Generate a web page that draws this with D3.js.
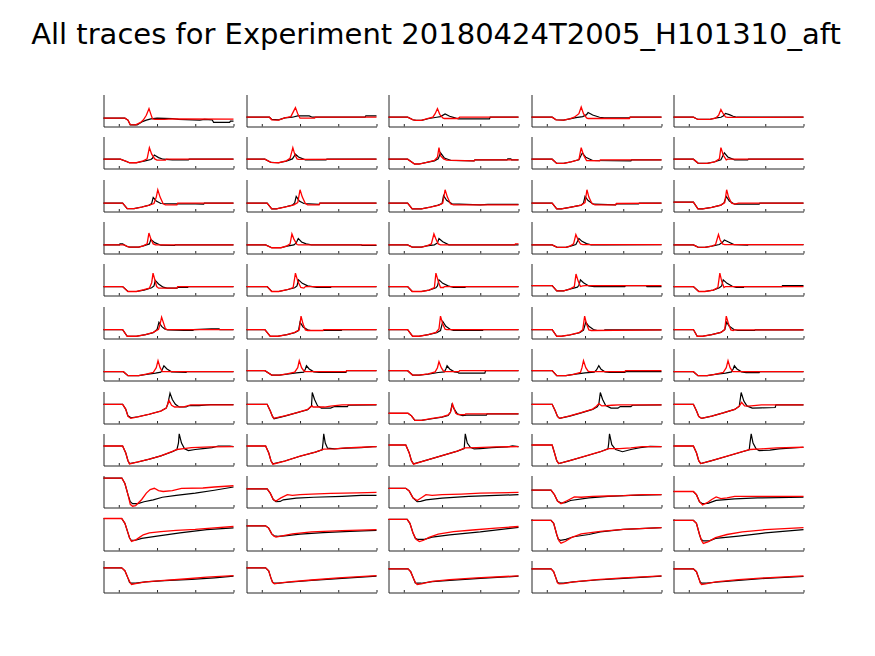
<!DOCTYPE html>
<html><head><meta charset="utf-8">
<script src="https://cdn.jsdelivr.net/npm/d3@7/dist/d3.min.js"></script>
<style>body{margin:0;background:#fff}svg{display:block}</style>
</head><body>
<svg id="c" width="875" height="656"></svg>
<script>
const title = "All traces for Experiment 20180424T2005_H101310_aft";
const timeTicks = [0, 50, 100, 150];
const timeDomain = [-20, 150];
const levelDomain = [0, 100];

// each panel trace: flat list of time,level pairs
const blackRow1 = [
 [-20,26, 8,26, 12,20, 15,5, 24,5, 30,14, 36,20, 42,24, 50,26, 70,25, 78,22, 106,20, 112,22, 122,21, 124,13, 145,13, 146,17, 150,17],
 [-20,29, 10,29, 13,22, 22,21, 30,27, 40,29, 47,33, 62,33, 66,29, 135,29, 136,33, 150,33],
 [-20,29, 5,29, 12,21, 16,19, 23,19, 33,25, 43,29, 48,31, 54,39, 60,32, 68,26, 72,24, 112,24, 113,29, 150,29],
 [-20,29, 7,29, 12,21, 22,20, 30,24, 38,28, 47,31, 52,37, 54,44, 60,36, 69,29, 75,27, 108,27, 109,29, 150,29],
 [-20,29, 6,29, 12,22, 27,22, 36,27, 42,29, 45,33, 48,41, 53,37, 58,32, 63,29, 150,29]];
const redRow1 = [
 [-20,26, 8,26, 12,20, 15,6, 22,5, 28,12, 32,20, 36,35, 39.5,56, 42,38, 44,24, 47,22, 60,22, 70,24, 150,23],
 [-20,29, 10,29, 13,21, 22,20, 30,27, 38,31, 41,45, 44,59, 47,40, 50,26, 69,26, 70,29, 150,29],
 [-20,29, 5,29, 12,21, 16,19, 23,19, 33,26, 38,29, 41,40, 44,56, 47,38, 51,27, 53,25, 71,25, 73,29, 150,29],
 [-20,29, 7,29, 12,21, 22,20, 30,24, 36,29, 42,40, 45,61, 48,40, 52,27, 54,25, 108,25, 109,29, 150,29],
 [-20,29, 6,29, 12,22, 27,22, 35,26, 39,35, 42,53, 45,40, 48,30, 51,28.6, 150,29]];

const blackRow2 = [
 [-20,29, 2,29, 10,22, 14,18, 23,18, 33,23, 42,28, 44,32, 46.5,42, 52,34, 58,29, 70,27, 91,27, 92,29, 150,29],
 [-20,29, 4,29, 12,19, 22,18, 32,23, 40,30, 44,45, 48,36, 57,27, 84,27, 85,29, 150,29],
 [-20,29, 5,29, 14,14, 20,14, 30,19, 40,24, 45,30, 48,49, 53,33, 62,25, 92,24, 93,27, 135,27, 136,30, 140,30, 141,27, 150,27],
 [-20,29, 7,29, 13,16, 22,16, 32,21, 42,27, 46.5,49, 51,35, 60,25, 110,24, 111,27, 150,27],
 [-20,29, 6,29, 12,17, 24,16, 34,21, 42,27, 46.5,49, 51,36, 60,27, 77,27, 78,29, 150,29]];
const redRow2 = [
 [-20,29, 2,29, 10,22, 14,18, 23,18, 32,24, 37,30, 40,65, 43,45, 47,30, 50,26, 61,26, 62,29, 150,29],
 [-20,29, 4,29, 12,19, 22,18, 32,24, 37,32, 40.6,65, 43,45, 46,30, 48,28.6, 150,29],
 [-20,29, 5,29, 14,14, 20,14, 30,19, 40,25, 44,35, 46,65, 48,40, 52,30, 56,26, 92,24, 93,27, 150,27],
 [-20,29, 7,29, 13,16, 22,16, 32,21, 42,28, 45,65, 48,42, 52,25, 69,24, 70,27, 150,27],
 [-20,29, 6,29, 12,17, 24,16, 34,21, 40,30, 42,65, 45,42, 49,27, 51,29, 150,29]];

const blackRow3 = [
 [-20,26, 5,26, 11,9, 20,9, 30,14, 40,20, 43,25, 45,44, 49,33, 55,25, 76,24, 100,24, 111,23, 112,26, 150,26],
 [-20,26, 7,26, 13,8, 19,8, 30,14, 40,20, 43,27, 45,47, 49,33, 55,25, 75,22, 76,26, 150,26],
 [-20,26, 5,26, 11,8, 23,8, 35,14, 45,20, 50,25, 52,50, 56,35, 63,24, 100,21, 110,22, 150,22],
 [-20,26, 7,26, 13,8, 19,8, 30,13, 45,20, 48,27, 50,47, 54,34, 61,23, 90,21, 91,24, 120,24, 121,26, 150,26],
 [-20,29, 6,29, 12,8, 18,8, 30,13, 42,20, 46,27, 49,47, 53,33, 60,23, 92,23, 93,26, 150,26]];
const redRow3 = [
 [-20,26, 5,26, 11,9, 20,9, 30,14, 40,20, 46,25, 49,45, 51,68, 54,45, 58,24, 61,21, 76,21, 77,26, 150,26],
 [-20,26, 7,26, 13,8, 19,8, 30,14, 42,21, 47,28, 50,68, 53,45, 57,25, 60,21, 75,21, 76,26, 150,26],
 [-20,26, 5,26, 11,8, 23,8, 35,14, 46,20, 51,26, 54,68, 57,45, 61,24, 65,21, 150,21],
 [-20,26, 7,26, 13,8, 19,8, 30,13, 45,20, 50,28, 52.5,68, 55,45, 59,25, 63,21, 90,21, 91,25, 150,26],
 [-20,29, 6,29, 12,8, 18,8, 30,13, 42,20, 47,28, 49.5,68, 52,45, 56,26, 60,23, 65,26, 150,26]];

const blackRow4 = [
 [-20,27, 1,27, 1.5,30, 5,30, 7,27, 11,22, 14,20, 26,20, 32,24, 40,30, 42,44, 47,34, 55,26, 73,25, 74,27, 150,27],
 [-20,27, 5,27, 13,18, 25,18, 33,23, 42,27, 45,33, 47.7,47, 52,36, 58,30, 65,27, 130,27, 131,25, 150,25],
 [-20,27, 5,27, 11,20, 23,20, 30,24, 40,27, 44,33, 46,47, 51,37, 59,27, 150,27],
 [-20,27, 7,27, 13,20, 16,19, 25,19, 31,23, 38,28, 42,47, 46,38, 52,31, 58,27, 75,27, 150,28],
 [-20,27, 6,27, 12,20, 21,19, 30,23, 40,28, 44,35, 46.5,42, 52,36, 59,28, 77,26, 78,28, 150,28]];
const redRow4 = [
 [-20,27, 7,27, 11,22, 14,20, 26,20, 32,24, 37,30, 39.4,64, 42,45, 45,30, 48,27, 150,27],
 [-20,27, 5,27, 13,18, 25,18, 33,24, 37,30, 39.4,61, 42,45, 46,28, 48,27, 150,27],
 [-20,27, 5,27, 11,20, 23,20, 30,24, 36,30, 39.4,61, 42,45, 45,30, 48,27, 145,27, 146,30, 150,30],
 [-20,27, 7,27, 13,20, 16,19, 25,19, 31,24, 35,30, 38,59, 41,42, 44,30, 47,28, 150,28],
 [-20,27, 6,27, 12,20, 21,19, 30,23, 35,28, 38.8,59, 41,42, 44,30, 47,28, 150,28]];

const blackRow5 = [
 [-20,28, 5,28, 12,12.5, 23,12.5, 33,17, 43,24, 46,30, 47.7,47, 52,36, 58,26, 63,23, 76,23, 77,25, 90,25, 91,28, 150,28],
 [-20,28, 7,28, 13,12.5, 22,12.5, 33,18, 43,24, 46,30, 48,49, 53,38, 60,30, 66,28, 72,25, 90,25, 91,28, 150,28],
 [-20,28, 5,28, 11,12.5, 23,12.5, 33,17, 42,24, 44,30, 46,49, 51,38, 58,30, 65,25, 80,25, 81,28, 150,28],
 [-20,31, 7,31, 13,14.5, 22,14.5, 30,20, 40,26, 42,32, 44,49, 48,40, 55,30, 62,28, 102,28, 103,31, 130,31, 131,28, 150,28],
 [-20,28, 6,28, 13,12.5, 21,12.5, 32,17, 40,24, 43,30, 45,49, 50,38, 57,29, 62,25, 71.5,25, 72,28, 122,28, 122.5,31, 150,31]];
const redRow5 = [
 [-20,28, 5,28, 12,12.5, 23,12.5, 33,18, 40,23, 43,40, 44.8,70, 47,50, 49.5,28, 52,23, 76,23, 77,28, 150,28],
 [-20,28, 7,28, 13,12.5, 22,12.5, 33,18, 41,25, 44,70, 47,45, 51,25, 55,23, 57,28, 150,28],
 [-20,28, 5,28, 11,12.5, 23,12.5, 33,17, 40,25, 42,70, 45,45, 48,25, 52,25, 53,28, 150,28],
 [-20,31, 7,31, 13,14.5, 22,14.5, 30,20, 36,28, 38.2,67, 41,45, 44,28, 47,30, 50,31, 150,31],
 [-20,28, 6,28, 13,12.5, 21,12.5, 32,17, 38,25, 40.6,70, 43,45, 46,25, 48,28, 150,28]];

const blackRow6 = [
 [-20,28, 5,28, 11,7, 23,7, 35,12, 45,18, 50,28, 52.5,51, 56,38, 60,30, 64,27, 85,25, 97,25, 98,28, 121,30, 131,30, 132,28, 150,28],
 [-20,28, 4,28, 11,7, 21,7, 33,12, 43,18, 48,25, 50,51, 54,36, 60,27, 64,25, 104,25, 105,28, 150,28],
 [-20,28, 5,28, 11.5,7, 20,7, 32,12, 43,18, 48,25, 51,53, 55,38, 61,28, 65,25, 103,25, 104,28, 150,28],
 [-20,28, 7,28, 13,7, 19,7, 30,11, 43,18, 48,26, 51,51, 55,38, 61,28, 66,25, 75,25, 76,27, 150,27],
 [-20,28, 6,28, 11,7, 18,7, 30,12, 42,19, 47,28, 49.5,51, 53,38, 59,28, 64,25, 86,25, 87,27, 150,27]];
const redRow6 = [
 [-20,28, 5,28, 11,7, 23,7, 35,12, 45,19, 52,29, 54,45, 56,66.5, 59,45, 61,30, 63,28, 150,28],
 [-20,28, 4,28, 11,7, 21,7, 33,12, 43,19, 49,27, 51.3,70, 54,45, 57,27, 60,25, 80,25, 81,28, 150,28],
 [-20,28, 5,28, 11.5,7, 20,7, 32,12, 42,19, 46,30, 48,70, 51,45, 54,29, 56,28, 150,28],
 [-20,28, 7,28, 13,7, 19,7, 30,11, 42,18, 47,27, 49.5,70, 52,45, 55,27, 58,25, 150,27],
 [-20,28, 6,28, 11,7, 18,7, 30,12, 42,19, 47,28, 49,70, 52,45, 55,27, 58,25, 60,27, 150,27]];

const blackRow7 = [
 [-20,27.5, 6,27.5, 12,15, 26,15, 36,19, 48,23, 55,26, 57,35, 59,46, 63,36, 69,27, 88,25, 89,27.5, 150,27.5],
 [-20,30.7, 4,30.7, 13,17, 23,17, 33,20, 45,24, 55,26, 57,36, 58.4,46, 62,36, 68,27, 75,25, 110,25, 111,30.7, 150,30.7],
 [-20,30.7, 5,30.7, 11.5,17, 20,17, 32,20, 45,25, 53,27, 55,36, 56.6,46, 60,36, 66,27, 71,25, 72,23, 106,23, 107,30.7, 150,30.7],
 [-20,30.7, 7,30.7, 13,15, 25,15, 35,19, 50,24, 62,26, 65,33, 68,46, 71,35, 76,27, 82,25.5, 102,25.5, 103,27.5, 150,27.5],
 [-20,27.5, 6,27.5, 12,15, 24,15, 34,19, 48,23, 56,27, 58,36, 59.6,46, 63,36, 69,27, 75,24.5, 92,24.5, 93,27.5, 150,27.5]];
const redRow7 = [
 [-20,27.5, 6,27.5, 12,15, 26,15, 36,20, 45,25, 49,40, 51.3,62, 54,40, 57,28, 60,27.5, 150,27.5],
 [-20,30.7, 4,30.7, 13,17, 23,17, 33,21, 43,26, 47,40, 49,62, 52,40, 55,30, 57,27.5, 110,27.5, 111,30.7, 150,30.7],
 [-20,30.7, 5,30.7, 11.5,17, 20,17, 32,21, 41,27, 44,40, 46,59, 49,40, 52,29, 53,27.5, 72,27.5, 73,30.7, 150,30.7],
 [-20,30.7, 7,30.7, 13,15, 25,15, 35,19, 44,25, 46,40, 48,62, 51,40, 54,29, 56,27.5, 102,27.5, 103,30.7, 150,30.7],
 [-20,27.5, 6,27.5, 12,15, 24,15, 34,19, 45,25, 49,40, 51.3,62, 54,40, 57,29, 58,27.5, 150,27.5]];

const blackRow8 = [
 [-20,60, 5,60, 9,45, 12,24, 16,18, 25,21, 40,29, 55,39, 62,48, 64,60, 67,95, 70,75, 74,60, 79,51.5, 88,51.5, 92,56, 105,56, 115,58, 120,59, 150,59],
 [-20,60, 7,60, 11,40, 14,22, 16,15, 30,23, 45,33, 60,43, 65,55, 66,97, 69,75, 73,55, 78,48, 90,48, 95,53, 112,53, 113,57, 150,58],
 [-20,32, 5.5,32, 10,24, 14.5,10, 23,10, 35,14, 50,20, 58,25, 61,35, 63,59, 66,45, 70,30, 77,24.4, 82,26, 108,26, 109,30, 150,30],
 [-20,60, 7,60, 11,40, 14,22, 16.7,16, 30,23, 45,33, 60,44, 66,52, 68,60, 70,97, 73,75, 77,56, 84,48, 93,48, 96,53, 110,53, 112,57, 150,58],
 [-20,60, 6,60, 10,40, 13,22, 16.7,16, 30,23, 45,33, 60,44, 66,54, 68.5,97, 72,70, 76,55, 83,48, 95,49, 113,50, 114,58, 150,58]];
const redRow8 = [
 [-20,60, 5,60, 9,45, 12,22, 15.6,16, 25,21, 40,29, 55,39, 62,48, 65.6,72, 69,57, 73,51.5, 85,52, 94,58, 150,58],
 [-20,60, 7,60, 11,40, 14,22, 15.6,16, 30,24, 45,33, 60,44, 64,52, 66,55, 67,51.5, 82,51.5, 90,54, 105,58, 150,59],
 [-20,32, 5.5,32, 10,24, 14.5,10, 23,10, 35,15, 50,21, 58,27, 61,35, 63.8,61, 66,45, 68,32, 71,27.5, 80,27.5, 81,30, 150,30],
 [-20,60, 7,60, 11,40, 14,22, 16.7,16, 30,24, 45,34, 60,45, 64,52, 68,62, 72,55, 78,56, 85,57, 95,58, 150,58],
 [-20,60, 6,60, 10,40, 13,22, 16.7,16, 30,23, 45,33, 60,44, 66,54, 69,66, 73,55, 78,54, 85,56, 95,58, 150,58]];

const blackRow9 = [
 [-20,61, 5,61, 9,40, 12,15, 14,6, 25,11, 40,20, 55,30, 70,43, 76,50, 78,70, 79,99, 82,70, 86,52, 91,46.5, 100,50, 110,53, 122,56, 130,61, 145,61, 150,59],
 [-20,61, 5,61, 9,40, 12,15, 14.5,5, 30,14, 50,29, 70,42, 79,49, 80,70, 81,99, 83,70, 86,54, 95,52, 110,54, 130,56, 145,59, 150,59],
 [-20,64, 2.6,64, 7,40, 10,15, 12.7,5, 30,17, 50,31, 70,45, 79,53, 80.4,99, 83,70, 87,57, 92,51.7, 100,53, 115,56, 135,58, 142,61, 150,59],
 [-20,64, 7,64, 10,40, 13,15, 15.6,6, 30,15, 50,29, 70,43, 80,52, 81,70, 82,99, 85,65, 90,50, 99,43, 110,50, 122,56, 135,60, 150,59],
 [-20,61, 6,61, 10,40, 13,15, 15.6,6, 30,15, 50,29, 70,43, 79,49, 80,70, 81.6,99, 84,70, 88,52, 92,46.5, 106,48, 118,52, 150,57]];
const redRow9 = [
 [-20,61, 5,61, 9,40, 12,15, 14,5, 25,11, 40,20, 55,30, 70,44, 76,50, 85,53, 95,56, 120,58, 150,59],
 [-20,61, 5,61, 9,40, 12,15, 14.5,4, 30,14, 50,29, 70,42, 81,51, 95,52, 110,55, 130,57, 150,59],
 [-20,64, 2.6,64, 7,40, 10,15, 12.7,4, 30,17, 50,31, 70,45, 80,55, 95,56, 120,58, 150,59],
 [-20,64, 7,64, 10,40, 13,15, 15.6,6, 30,15, 50,29, 70,43, 81,53, 95,53, 110,55, 125,59, 150,59],
 [-20,61, 6,61, 10,40, 13,15, 15.6,6, 30,15, 50,29, 70,43, 80,50, 95,52, 115,55, 150,57]];

const blackRow10 = [
 [-20,92, 4,92, 8,75, 12,40, 15,18, 18,12, 25,12, 33,18, 45,24, 57,32, 75,38, 100,45, 125,54, 150,64],
 [-20,58, 7,58, 11,45, 15,25, 18.6,18, 24,19, 28,24, 45,29, 68,32, 105,35, 130,38, 150,38],
 [-20,60, 2.6,60, 7,52, 12,30, 17.5,18, 22,19, 29,24, 50,29, 85,35, 150,40],
 [-20,54, 5.5,54, 10,40, 14,20, 18.6,14, 24,15, 31,22, 55,30, 80,35, 110,38, 150,40],
 [-20,50, 6,50, 10,40, 14,18, 18,12, 25,13, 35.8,22, 60,27, 90,30, 150,32]];
const redRow10 = [
 [-20,92, 4,92, 8,75, 12,40, 15,10, 18,4, 22,6, 30,25, 36,45, 41,56, 46.5,60, 52,53, 58,50, 70,53, 82,60, 110,61, 125,64, 150,68],
 [-20,58, 7,58, 11,45, 15,25, 18.6,20, 25,30, 33.5,40, 40,38, 50,40, 65,42, 90,44, 125,46, 150,47],
 [-20,60, 2.6,60, 7,52, 12,30, 17.5,22, 24,32, 29,40, 37,38, 50,40, 75,42, 100,45, 150,47],
 [-20,54, 5.5,54, 10,40, 14,20, 18.6,12, 27,22, 36,33, 45,32, 60,35, 80,36, 100,37, 125,40, 150,40],
 [-20,50, 6,50, 10,40, 14,18, 18,8, 24,15, 30,25, 35.8,33, 42,28, 50,30, 60,35, 150,35]];

const blackRow11 = [
 [-20,100, 3.8,100, 8,85, 12,55, 14,40, 16,32, 22,32, 30,38, 50,45, 80,55, 115,65, 150,71],
 [-20,77, 5,77, 9,70, 13,52, 16,46, 21,44, 30,46, 50,51, 80,56, 115,60, 150,63],
 [-20,97, 4.4,97, 8,85, 12,55, 15,38, 18,35, 27,35, 37,42, 60,49, 100,58, 150,72],
 [-20,94, 5.5,94, 9,85, 13,50, 15,35, 18,32, 25,35, 35,43, 55,50, 70,58, 100,66, 150,71.5],
 [-20,94, 6,94, 10,85, 14,50, 16,35, 19,30, 27,30, 35,38, 65,45, 100,55, 150,65]];
const redRow11 = [
 [-20,100, 3.8,100, 8,85, 12,55, 14,40, 16.7,28, 22,33, 27,41, 32,49, 40,55, 55,59, 75,63, 100,66, 125,71, 150,75],
 [-20,77, 5,77, 9,70, 13,52, 16,45, 18.6,42, 25,45, 40,52, 65,58, 105,62, 150,65],
 [-20,97, 4.4,97, 8,85, 12,55, 16,35, 20.4,28, 26,32, 33,41, 45,51, 65,59, 90,64, 120,70, 150,75],
 [-20,94, 5.5,94, 9,85, 13,50, 16,30, 18.6,23, 24,28, 32,40, 45,52, 70,60, 100,66, 150,71.5],
 [-20,94, 6,94, 10,85, 14,50, 17,30, 19,22, 25,27, 35,40, 50,50, 70,58, 100,65, 150,71.5]];

const blackRow12 = [
 [-20,77, 3.8,77, 8,68, 12,45, 14,32, 16,29, 22,29, 35,33, 60,37, 95,41, 125,46, 150,51],
 [-20,77, 5,77, 9,68, 12,45, 14,33, 16,29, 22,29, 35,32, 65,38, 105,44, 150,51],
 [-20,74, 5.5,74, 9,65, 13,42, 15,30, 17,29, 23,29, 37,34, 60,38, 100,44, 150,51],
 [-20,74, 5.5,74, 9,65, 12,45, 14,32, 16,29, 22,29, 35,33, 65,39, 100,44, 150,51],
 [-20,74, 6,74, 10,65, 13,45, 15,32, 17,29, 23,29, 35,32, 65,38, 100,44, 150,50]];
const redRow12 = [
 [-20,77, 3.8,77, 8,68, 12,45, 15,30, 16.7,25, 22,28, 35,33, 55,37, 90,43, 115,48, 150,53],
 [-20,77, 5,77, 9,68, 12,45, 14,32, 16.5,27, 22,29, 35,33, 65,39, 100,46, 150,53],
 [-20,74, 5.5,74, 9,65, 13,42, 15.5,30, 17.5,25, 23,27, 37,35, 60,40, 95,46, 150,52],
 [-20,74, 5.5,74, 9,65, 12,45, 14,30, 16,27, 22,28, 35,33, 65,40, 100,46, 150,52],
 [-20,74, 6,74, 10,65, 13,45, 15,30, 16.7,25, 22,27, 35,33, 65,40, 100,46, 150,52]];

const blackRows = [blackRow1, blackRow2, blackRow3, blackRow4, blackRow5, blackRow6,
                   blackRow7, blackRow8, blackRow9, blackRow10, blackRow11, blackRow12];
const redRows = [redRow1, redRow2, redRow3, redRow4, redRow5, redRow6,
                 redRow7, redRow8, redRow9, redRow10, redRow11, redRow12];

const W = 875, H = 656;
const nRows = 12, nCols = 5;
const panelW = 130, panelH = 32;
const rowScale = d3.scaleLinear().domain([0, nRows - 1]).range([94, 560]);
const colScale = d3.scaleLinear().domain([0, nCols - 1]).range([103.3, 673.3]);

const svg = d3.select("#c");
svg.append("rect").attr("width", W).attr("height", H).attr("fill", "#fff");

svg.append("text")
  .attr("x", 436).attr("y", 44)
  .attr("text-anchor", "middle")
  .attr("font-family", "DejaVu Sans, sans-serif")
  .attr("font-size", 29)
  .attr("fill", "#000")
  .text(title);

const x = d3.scaleLinear().domain(timeDomain).range([0, panelW]);
const y = d3.scaleLinear().domain(levelDomain).range([panelH, 0]);
const line = d3.line().x(d => x(d[0])).y(d => y(d[1]));
const toPairs = arr => d3.range(0, arr.length, 2).map(i => [arr[i], arr[i + 1]]);

for (let r = 0; r < nRows; r++) {
  for (let c = 0; c < nCols; c++) {
    const g = svg.append("g")
      .attr("transform", `translate(${Math.round(colScale(c)) + 0.5},${Math.round(rowScale(r)) + 0.5})`);
    const xAxis = d3.axisBottom(x).tickValues(timeTicks).tickSize(-2.5).tickSizeOuter(0).tickFormat("");
    const yAxis = d3.axisLeft(y).tickValues([]).tickSizeOuter(0);
    const ga = g.append("g").attr("transform", `translate(0,${panelH})`).call(xAxis);
    const gy = g.append("g").call(yAxis);
    [ga, gy].forEach(a => {
      a.selectAll("path").attr("stroke", "#262626").attr("stroke-width", 1);
      a.selectAll("line").attr("stroke", "#262626").attr("stroke-width", 1);
    });
    g.append("path").datum(toPairs(blackRows[r][c]))
      .attr("fill", "none").attr("stroke", "#000").attr("stroke-width", 1.2)
      .attr("d", line);
    g.append("path").datum(toPairs(redRows[r][c]))
      .attr("fill", "none").attr("stroke", "#ff0000").attr("stroke-width", 1.3)
      .attr("d", line);
  }
}
</script>
</body></html>
